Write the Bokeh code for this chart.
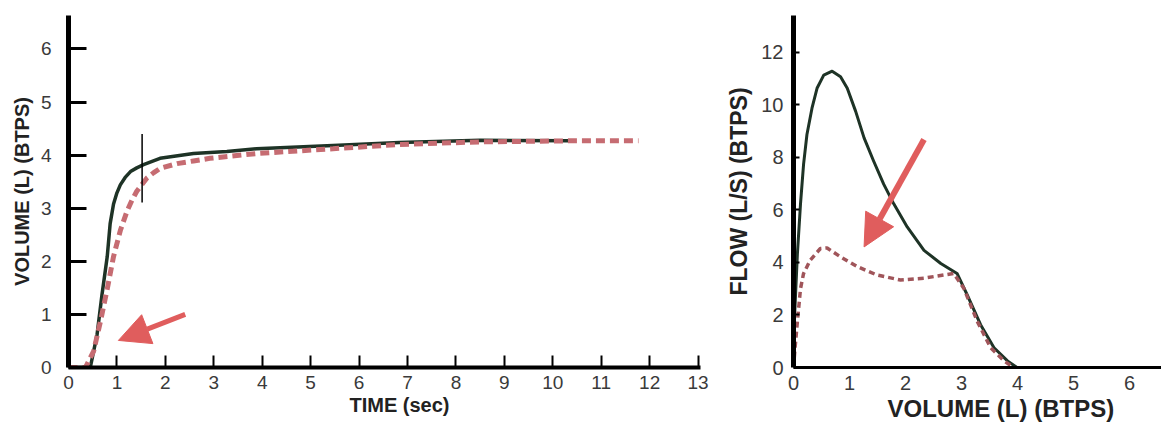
from bokeh.plotting import figure
from bokeh.layouts import row
from bokeh.models import Range1d, FixedTicker, Arrow, NormalHead, Title
from bokeh.embed import file_html
from bokeh.resources import INLINE

# ---- Volume-time curve (left) ----
time_solid = [0, 0.45, 0.59, 0.69, 0.8, 0.86, 0.93, 1.0, 1.07, 1.17, 1.28, 1.41, 1.55,
              1.89, 2.58, 3.27, 3.88, 5.46, 6.83, 8.5, 10.35]
vol_solid = [0, 0, 0.62, 1.36, 2.09, 2.71, 3.08, 3.29, 3.44, 3.58, 3.69, 3.76, 3.82,
             3.94, 4.03, 4.07, 4.12, 4.18, 4.24, 4.28, 4.27]
time_dashed = [0, 0.35, 0.52, 0.66, 0.8, 0.93, 1.07, 1.21, 1.31, 1.41, 1.62, 1.76,
               1.89, 2.24, 2.58, 2.92, 3.88, 5.46, 6.83, 8.5, 10.4, 11.77]
vol_dashed = [0, 0, 0.31, 0.87, 1.48, 2.09, 2.58, 2.95, 3.15, 3.32, 3.57, 3.67,
              3.75, 3.84, 3.89, 3.94, 4.03, 4.12, 4.2, 4.25, 4.27, 4.27]
time_ticks = list(range(0, 14))
vol_ticks = list(range(0, 7))
marker_time = [1.52]
marker_vol_low = [3.11]
marker_vol_high = [4.4]
arrow1_start = (2.41, 1.0)
arrow1_end = (1.03, 0.51)
vt_xlabel = "TIME (sec)"

# ---- Flow-volume curve (right) ----
fv_vol_solid = [0, 0.02, 0.07, 0.125, 0.18, 0.24, 0.33, 0.42, 0.54, 0.69, 0.84, 0.96,
                1.11, 1.26, 1.43, 1.61, 1.79, 2.03, 2.33, 2.63, 2.92, 3.1, 3.34, 3.58,
                3.82, 3.99]
fv_flow_solid = [0, 2.0, 4.34, 6.23, 7.74, 8.87, 9.87, 10.63, 11.13, 11.28, 11.07, 10.63,
                 9.75, 8.74, 7.86, 6.98, 6.23, 5.35, 4.46, 3.96, 3.58, 2.77, 1.63, 0.75,
                 0.25, 0]
fv_vol_dashed = [0, 0.03, 0.07, 0.125, 0.18, 0.3, 0.48, 0.6, 0.84, 1.14, 1.49, 1.91,
                 2.33, 2.68, 2.86, 3.04, 3.28, 3.52, 3.76, 3.93]
fv_flow_dashed = [0, 0.8, 1.76, 3.0, 3.58, 4.09, 4.53, 4.55, 4.21, 3.84, 3.52, 3.33,
                  3.4, 3.52, 3.58, 3.02, 1.76, 0.75, 0.25, 0]
fv_vol_ticks = list(range(0, 7))
flow_ticks = [0, 2, 4, 6, 8, 10, 12]
arrow2_start = (2.33, 8.68)
arrow2_end = (1.26, 4.59)
fv_xlabel = "VOLUME (L) (BTPS)"

SOLID = "#1e3326"
DASH_L = "#c66c72"
DASH_R = "#a0555a"
ARROW = "#e05d5d"
FONT = "Liberation Sans"


def style(p, xt, yt, tick_size, label_size, ytick_in, xtick_in, xstand, ystand):
    p.xgrid.visible = False
    p.ygrid.visible = False
    p.outline_line_color = None
    p.background_fill_color = "white"
    p.border_fill_color = "white"
    p.xaxis.ticker = FixedTicker(ticks=xt)
    p.yaxis.ticker = FixedTicker(ticks=yt)
    for ax in (p.xaxis[0], p.yaxis[0]):
        ax.axis_line_color = "black"
        ax.major_tick_line_color = "black"
        ax.minor_tick_line_color = None
        ax.major_tick_out = 0
        ax.major_label_text_font = FONT
        ax.major_label_text_font_size = f"{tick_size}px"
        ax.major_label_text_color = "#3a3a3a"
        ax.axis_label_text_font = FONT
        ax.axis_label_text_font_style = "bold"
        ax.axis_label_text_font_size = f"{label_size}px"
        ax.axis_label_text_color = "#222222"
    p.yaxis.major_tick_in = ytick_in
    p.xaxis.major_tick_in = xtick_in
    p.xaxis.major_label_standoff = xstand
    p.yaxis.major_label_standoff = ystand


# Left figure
p1 = figure(width=720, height=428, x_range=Range1d(0, 13.05), y_range=Range1d(0, 6.63),
            output_backend="svg", toolbar_location=None,
            min_border_left=68, min_border_right=20, min_border_top=7, min_border_bottom=61)
style(p1, time_ticks, vol_ticks, 19, 20, 18, 12, 8, 17)
p1.yaxis.axis_label = "VOLUME (L) (BTPS)"
p1.xaxis.axis_line_width = 4
p1.yaxis.axis_line_width = 5
p1.yaxis.major_tick_line_width = 3
p1.xaxis.major_tick_line_width = 2
p1.yaxis.axis_label_standoff = 5

p1.line(time_solid, vol_solid, line_color=SOLID, line_width=3.5, line_join="round")
p1.line(time_dashed, vol_dashed, line_color=DASH_L, line_width=5, line_dash="9 5")
p1.segment(x0=marker_time, y0=marker_vol_low, x1=marker_time, y1=marker_vol_high,
           line_color="black", line_width=1.5)
p1.add_layout(Arrow(x_start=arrow1_start[0], y_start=arrow1_start[1],
                    x_end=arrow1_end[0], y_end=arrow1_end[1],
                    line_color=ARROW, line_width=5,
                    end=NormalHead(size=31, fill_color=ARROW, line_color=ARROW)))
# x-axis title, placed off-centre below the axis as in the original
p1.add_layout(Title(text=vt_xlabel, align="left", offset=281, standoff=0,
                    text_font=FONT, text_font_style="bold", text_font_size="20px",
                    text_color="#222222"), "below")

# Right figure
p2 = figure(width=441, height=428, x_range=Range1d(0, 6.57), y_range=Range1d(0, 13.4),
            output_backend="svg", toolbar_location=None,
            min_border_left=73, min_border_right=0, min_border_top=15, min_border_bottom=58)
style(p2, fv_vol_ticks, flow_ticks, 20, 23, 6, 0, 8, 10)
p2.yaxis.axis_label = "FLOW (L/S) (BTPS)"
p2.xaxis.axis_line_width = 3
p2.yaxis.axis_line_width = 5
p2.yaxis.major_tick_line_width = 2
p2.yaxis.axis_label_standoff = 6

p2.line(fv_vol_solid, fv_flow_solid, line_color=SOLID, line_width=3, line_join="round")
p2.line(fv_vol_dashed, fv_flow_dashed, line_color=DASH_R, line_width=3.5, line_dash="6 4")
p2.add_layout(Arrow(x_start=arrow2_start[0], y_start=arrow2_start[1],
                    x_end=arrow2_end[0], y_end=arrow2_end[1],
                    line_color=ARROW, line_width=6,
                    end=NormalHead(size=32, fill_color=ARROW, line_color=ARROW)))
p2.add_layout(Title(text=fv_xlabel, align="left", offset=94, standoff=0,
                    text_font=FONT, text_font_style="bold", text_font_size="24px",
                    text_color="#222222"), "below")

layout = row(p1, p2)
open("out.html", "w").write(file_html(layout, INLINE))
